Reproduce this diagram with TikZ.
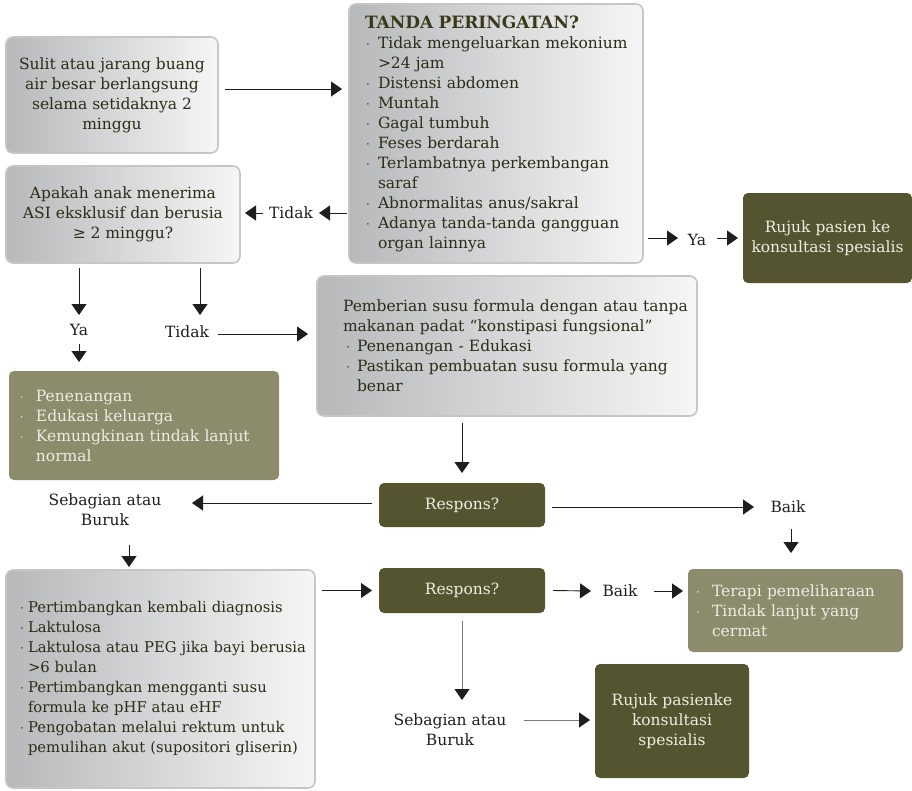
\documentclass[tikz,border=0pt]{standalone}
\usepackage{fontspec}
\setmainfont{DejaVu Serif}
\usetikzlibrary{arrows.meta,calc}
\definecolor{olive}{HTML}{545530}
\definecolor{lolive}{HTML}{8C8B6C}
\definecolor{gL}{HTML}{B7B8BA}
\definecolor{gR}{HTML}{F6F6F6}
\definecolor{gborder}{HTML}{C6C6C6}
\definecolor{gtext}{HTML}{2C2C18}
\definecolor{titlec}{HTML}{3A3A1A}
\definecolor{otext}{HTML}{EFEDE2}
\definecolor{linec}{HTML}{1E1E1E}
\definecolor{glinec}{HTML}{7A7A7A}
\setlength\parindent{0pt}
\newcommand\bitem[3]{\mbox{\makebox[#1][l]{\hspace*{#2}{\fontsize{12}{12}\selectfont·}}#3}}
\newcommand\citem[2]{\mbox{\hspace*{#1}#2}}
\tikzset{
  graybox/.style={draw=gborder, line width=1.6pt, rounded corners=7pt, left color=gL, right color=gR, text=gtext, outer sep=0pt, inner ysep=0pt},
  darkbox/.style={fill=olive, rounded corners=5pt, text=otext, outer sep=0pt, inner sep=0pt},
  lightbox/.style={fill=lolive, rounded corners=5pt, text=otext, outer sep=0pt, inner ysep=0pt},
  lbl/.style={text=linec, inner sep=1pt},
  arr/.style={draw=linec, line width=0.9pt, -{Triangle[length=11pt,width=15pt]}},
  garr/.style={draw=glinec, line width=0.9pt, -{Triangle[length=11pt,width=15pt,color=linec]}}
}
\begin{document}
\begin{tikzpicture}[x=1pt,y=-1pt,font=\fontsize{15.5}{20}\selectfont]
\useasboundingbox (0,0) rectangle (912,790);
\node[graybox, minimum width=212pt, minimum height=116pt, align=center] (A) at (112,95)
  {Sulit atau jarang buang\\air besar berlangsung\\selama setidaknya 2\\minggu};
\node[graybox, minimum width=294pt, minimum height=259pt, text width=262pt, inner xsep=16pt, align=left] (B) at (496,133.5)
  {\mbox{\fontsize{17}{20}\selectfont\bfseries\color{titlec}TANDA PERINGATAN?}\\
   \bitem{13pt}{1pt}{Tidak mengeluarkan mekonium}\\
   \citem{13pt}{>24 jam}\\
   \bitem{13pt}{1pt}{Distensi abdomen}\\
   \bitem{13pt}{1pt}{Muntah}\\
   \bitem{13pt}{1pt}{Gagal tumbuh}\\
   \bitem{13pt}{1pt}{Feses berdarah}\\
   \bitem{13pt}{1pt}{Terlambatnya perkembangan}\\
   \citem{13pt}{saraf}\\
   \bitem{13pt}{1pt}{Abnormalitas anus/sakral}\\
   \bitem{13pt}{1pt}{Adanya tanda-tanda gangguan}\\
   \citem{13pt}{organ lainnya}};
\node[graybox, minimum width=234pt, minimum height=97pt, align=center] (C) at (123,214.5)
  {Apakah anak menerima\\ASI eksklusif dan berusia\\≥ 2 minggu?};
\node[darkbox, minimum width=169pt, minimum height=90pt, align=center] (D) at (827.5,238)
  {Rujuk pasien ke\\konsultasi spesialis};
\node[graybox, minimum width=380pt, minimum height=140pt, text width=328pt, inner xsep=26pt, align=left] (E) at (507,346)
  {\mbox{Pemberian susu formula dengan atau tanpa}\\
   \mbox{makanan padat “konstipasi fungsional”}\\
   \bitem{14pt}{3pt}{Penenangan - Edukasi}\\
   \bitem{14pt}{3pt}{Pastikan pembuatan susu formula yang}\\
   \citem{14pt}{benar}};
\node[lightbox, minimum width=270pt, minimum height=109pt, text width=250pt, inner xsep=10pt, align=left] (F) at (144,425.5)
  {\bitem{17pt}{1pt}{Penenangan}\\
   \bitem{17pt}{1pt}{Edukasi keluarga}\\
   \bitem{17pt}{1pt}{Kemungkinan tindak lanjut}\\
   \citem{17pt}{normal}};
\node[darkbox, minimum width=166pt, minimum height=44pt] (R1) at (462,505) {Respons?};
\node[graybox, minimum width=309pt, minimum height=218pt, text width=281pt, inner xsep=14pt, align=left, font=\fontsize{14.8}{20}\selectfont] (G) at (160.5,679)
  {\bitem{8pt}{0pt}{Pertimbangkan kembali diagnosis}\\
   \bitem{8pt}{0pt}{Laktulosa}\\
   \bitem{8pt}{0pt}{Laktulosa atau PEG jika bayi berusia}\\
   \citem{8pt}{>6 bulan}\\
   \bitem{8pt}{0pt}{Pertimbangkan mengganti susu}\\
   \citem{8pt}{formula ke pHF atau eHF}\\
   \bitem{8pt}{0pt}{Pengobatan melalui rektum untuk}\\
   \citem{8pt}{pemulihan akut (supositori gliserin)}\\[10pt]};
\node[darkbox, minimum width=166pt, minimum height=45pt] (R2) at (462,590.5) {Respons?};
\node[lightbox, minimum width=215pt, minimum height=83pt, text width=199pt, inner xsep=8pt, align=left] (H) at (795.5,610.5)
  {\bitem{16pt}{0pt}{Terapi pemeliharaan}\\
   \bitem{16pt}{0pt}{Tindak lanjut yang}\\
   \citem{16pt}{cermat}};
\node[darkbox, minimum width=154pt, minimum height=114pt, align=center] (I) at (672,721)
  {Rujuk pasienke\\konsultasi\\spesialis};
% labels
\node[lbl] (t1) at (291,213) {Tidak};
\node[lbl] (y1) at (697,240) {Ya};
\node[lbl] (y2) at (79,330) {Ya};
\node[lbl] (t2) at (187,332) {Tidak};
\node[lbl, align=center] (s1) at (105,510) {Sebagian atau\\Buruk};
\node[lbl] (k1) at (788,507) {Baik};
\node[lbl] (k2) at (620,591) {Baik};
\node[lbl, align=center] (s2) at (450,730) {Sebagian atau\\Buruk};
% connectors
\draw[arr] ($(A.east)+(7,-6)$) -- ($(A.east -| B.west)+(-7,-6)$);
\draw[arr] ($(B.west |- t1)+(-2,0)$) -- ($(t1)+(28,0)$);
\draw[arr] ($(t1)+(-28,0)$) -- ($(t1 -| C.east)+(5,0)$);
\draw[arr] ($(B.east |- y1)+(5,-2)$) -- ($(y1)+(-19,-2)$);
\draw[arr] ($(y1)+(20,-2)$) -- ($(y1 -| D.west)+(-5,-2)$);
\draw[arr] ($(C.south -| y2)+(0,5)$) -- ($(y2)+(0,-15)$);
\draw[arr] ($(y2)+(0,14)$) -- ($(y2 |- F.north)+(0,-9)$);
\draw[arr] ($(C.south -| t2)+(13,5)$) -- ($(t2)+(13,-17)$);
\draw[arr] ($(t2)+(31,2)$) -- ($(t2 -| E.west)+(-9,2)$);
\draw[arr] ($(E.south -| R1)+(0,7)$) -- ($(R1.north)+(0,-10)$);
\draw[arr] ($(R1.west)+(-7,-2)$) -- ($(s1)+(87,-7)$);
\draw[arr] ($(R1.east)+(7,2)$) -- ($(k1)+(-34,0)$);
\draw[arr] ($(k1)+(3,22)$) -- ($(k1 |- H.north)+(3,-16)$);
\draw[arr] ($(s1)+(24,35)$) -- ($(s1 |- G.north)+(24,-3)$);
\draw[arr] ($(G.east |- R2)+(7,0)$) -- ($(R2.west)+(-7,0)$);
\draw[arr] ($(R2.east)+(8,0)$) -- ($(k2)+(-29,0)$);
\draw[arr] ($(k2)+(34,0)$) -- ($(k2 -| H.west)+(-5,0)$);
\draw[garr] ($(R2.south)+(0,8)$) -- ($(R2.south |- s2)+(0,-30)$);
\draw[garr] ($(s2)+(74,-10)$) -- ($(s2 -| I.west)+(-5,-10)$);
\end{tikzpicture}
\end{document}
